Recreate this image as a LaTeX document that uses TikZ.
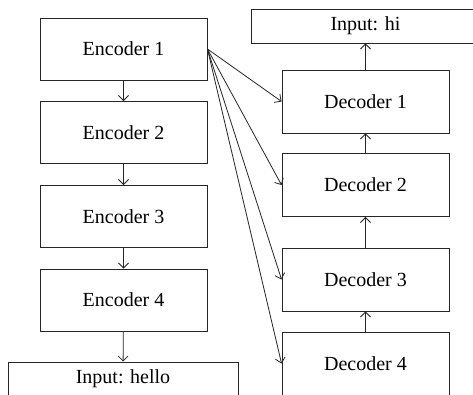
\documentclass[tikz,border=0pt]{standalone}
\usepackage{fontspec}
\setmainfont{Liberation Serif}
\usetikzlibrary{arrows.meta}
\begin{document}
\begin{tikzpicture}[x=1pt,y=-1pt,
  blk/.style={draw=black!85,line width=0.9pt,rectangle,inner sep=0pt,font=\fontsize{20}{24}\selectfont},
  enc/.style={blk,minimum width=167pt,minimum height=62pt},
  inp/.style={blk,minimum width=230pt,minimum height=34pt},
  conn/.style={draw=black!85,line width=0.8pt,-{Straight Barb[length=5pt,width=10pt]}}]
\clip (0,0) rectangle (473,394);
\fill[white] (0,0) rectangle (473,394);
\node[enc] (e1) at (123.5,49) {Encoder 1};
\node[enc] (e2) at (123.5,132.5) {Encoder 2};
\node[enc] (e3) at (123.5,216.5) {Encoder 3};
\node[enc] (e4) at (123.5,300) {Encoder 4};
\node[inp] (ih) at (123,379) {Input: hello};
\node[enc,minimum height=63pt] (d1) at (365.5,101.5) {Decoder 1};
\node[enc,minimum height=63pt] (d2) at (365.5,185) {Decoder 2};
\node[enc,minimum height=63pt] (d3) at (365.5,279.5) {Decoder 3};
\node[enc,minimum height=63pt] (d4) at (365.5,363.5) {Decoder 4};
\node[inp,minimum width=229pt] (ii) at (365.5,26) {Input: hi};
\draw[conn] (e1) -- (e2);
\draw[conn] (e2) -- (e3);
\draw[conn] (e3) -- (e4);
\draw[conn] (e4) -- (ih);
\draw[conn] (d4) -- (d3);
\draw[conn] (d3) -- (d2);
\draw[conn] (d2) -- (d1);
\draw[conn] (d1) -- (ii);
\draw[conn] (e1.east) -- (d1.west);
\draw[conn] (e1.east) -- (d2.west);
\draw[conn] (e1.east) -- (d3.west);
\draw[conn] (e1.east) -- (d4.west);
\end{tikzpicture}
\end{document}
